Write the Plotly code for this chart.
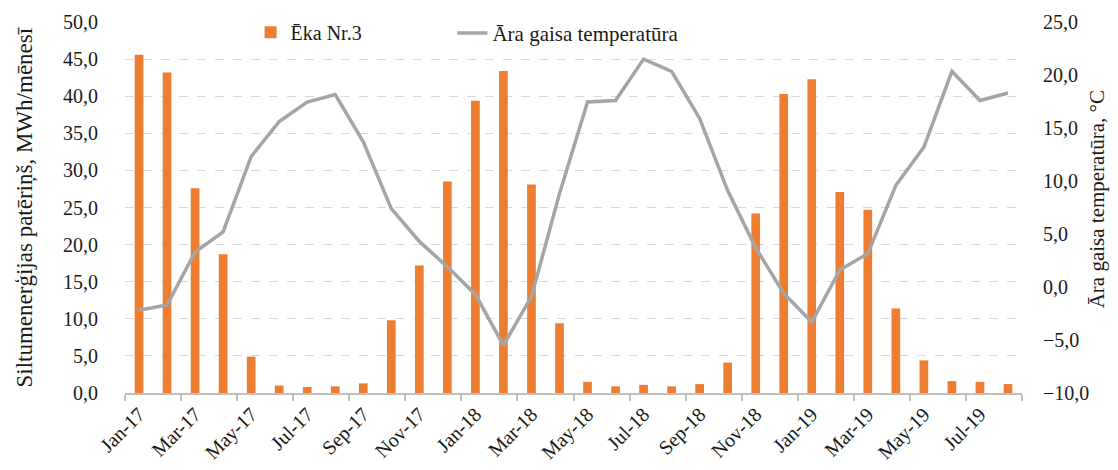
import plotly.graph_objects as go

months = ["Jan-17", "Feb-17", "Mar-17", "Apr-17", "May-17", "Jun-17", "Jul-17", "Aug-17",
          "Sep-17", "Oct-17", "Nov-17", "Dec-17", "Jan-18", "Feb-18", "Mar-18", "Apr-18",
          "May-18", "Jun-18", "Jul-18", "Aug-18", "Sep-18", "Oct-18", "Nov-18", "Dec-18",
          "Jan-19", "Feb-19", "Mar-19", "Apr-19", "May-19", "Jun-19", "Jul-19", "Aug-19"]

heat = [45.6, 43.2, 27.6, 18.7, 4.9, 1.0, 0.8, 0.9,
        1.3, 9.8, 17.2, 28.5, 39.4, 43.4, 28.1, 9.4,
        1.5, 0.9, 1.1, 0.9, 1.2, 4.1, 24.2, 40.3,
        42.3, 27.1, 24.7, 11.4, 4.4, 1.6, 1.5, 1.2]

temp = [-2.2, -1.7, 3.3, 5.2, 12.3, 15.6, 17.45, 18.15,
        13.7, 7.4, 4.3, 1.9, -0.7, -5.5, -0.9, 8.8,
        17.45, 17.6, 21.5, 20.35, 15.9, 9.1, 3.7, -0.6,
        -3.3, 1.6, 3.15, 9.6, 13.2, 20.35, 17.6, 18.3]

idx = list(range(len(months)))
FONT = "Liberation Serif, Times New Roman, DejaVu Serif, serif"
FS = 20

fig = go.Figure()
fig.add_trace(go.Bar(
    x=idx, y=heat, name="Ēka Nr.3", marker_color="#ED7D31", width=0.31,
    marker_line_width=0, legend="legend",
))
fig.add_trace(go.Scatter(
    x=idx, y=temp, name="Āra gaisa temperatūra", yaxis="y2", mode="lines",
    line=dict(color="#A5A5A5", width=3.5), legend="legend2",
))

leg_common = dict(orientation="h", y=1.025, yanchor="top", xanchor="left",
                  bgcolor="rgba(0,0,0,0)", font=dict(size=FS, family=FONT))

fig.update_layout(
    width=1110, height=462,
    margin=dict(l=117, r=96, t=14, b=77, autoexpand=False),
    paper_bgcolor="white", plot_bgcolor="white",
    separators=", ",
    font=dict(family=FONT, size=FS, color="#1a1a1a"),
    showlegend=True,
    legend=dict(x=0.14, **leg_common),
    legend2=dict(x=0.365, font=dict(size=21, family=FONT),
                 **{k: v for k, v in leg_common.items() if k != "font"}),
    xaxis=dict(
        range=[-0.5, len(months) - 0.5], tickmode="array",
        tickvals=idx[::2], ticktext=months[::2], tickangle=-45,
        ticks="", showgrid=False, zeroline=False, automargin=False,
        showline=True, linecolor="#BFBFBF", linewidth=1.5,
        minor=dict(ticks="outside", tick0=-0.5, dtick=2, ticklen=6,
                   tickcolor="#BFBFBF", tickwidth=1.5, showgrid=False),
        tickfont=dict(size=FS, family=FONT),
    ),
    yaxis=dict(
        range=[0, 50], dtick=5, tickformat=".1f", automargin=False,
        showgrid=True, gridcolor="#D9D9D9", griddash="dash", gridwidth=1.3,
        zeroline=False, showline=False, ticks="", ticklabelstandoff=26,
        tickfont=dict(size=FS, family=FONT),
    ),
    yaxis2=dict(
        range=[-10, 25], dtick=5, tickformat=".1f", overlaying="y", side="right",
        showgrid=False, zeroline=False, showline=False, ticks="", ticklabelstandoff=20,
        automargin=False, tickfont=dict(size=FS, family=FONT),
    ),
    annotations=[
        dict(text="Siltumenerģijas patēriņš, MWh/mēnesī", xref="paper", yref="paper",
             x=-0.1115, y=0.5, textangle=-90, showarrow=False,
             font=dict(size=23, family=FONT), xanchor="center", yanchor="middle"),
        dict(text="Āra gaisa temperatūra, °C", xref="paper", yref="paper",
             x=1.084, y=0.523, textangle=-90, showarrow=False,
             font=dict(size=21, family=FONT), xanchor="center", yanchor="middle"),
    ],
)

fig.write_html("out.html")
